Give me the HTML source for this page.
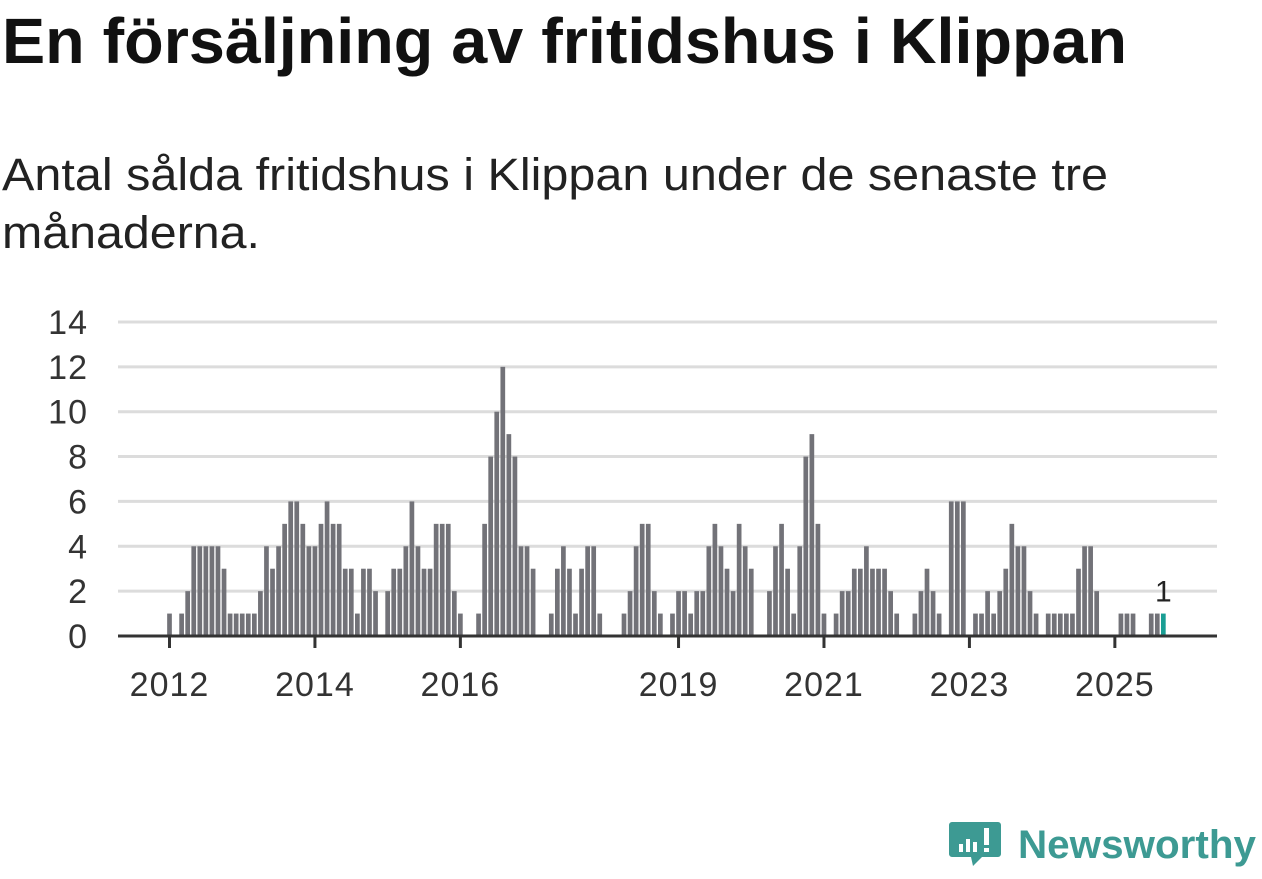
<!DOCTYPE html>
<html><head><meta charset="utf-8">
<style>
html,body{margin:0;padding:0;background:#fff;width:1262px;height:879px;overflow:hidden;font-family:"Liberation Sans","DejaVu Sans",sans-serif;}
svg{position:absolute;left:0;top:0}
</style></head><body>
<svg id="chart" width="1262" height="879" font-family="Liberation Sans, DejaVu Sans, sans-serif">
<text x="2" y="63" font-size="64" font-weight="bold" fill="#111" textLength="1125" lengthAdjust="spacingAndGlyphs">En försäljning av fritidshus i Klippan</text>
<g>
<text x="2" y="190" font-size="45" fill="#222" textLength="1106" lengthAdjust="spacingAndGlyphs">Antal sålda fritidshus i Klippan under de senaste tre</text>
<text x="2" y="248" font-size="45" fill="#222" textLength="258" lengthAdjust="spacingAndGlyphs">månaderna.</text>
</g>
<g id="grid"></g><g id="bars"></g><g id="axes"></g>
<g>
<path d="M952 822 h46 a3 3 0 0 1 3 3 v29 a3 3 0 0 1 -3 3 h-16 l-9 9 l-2 -9 h-19 a3 3 0 0 1 -3 -3 v-29 a3 3 0 0 1 3 -3z" fill="#3d9a93"/>
<rect x="959" y="844" width="4" height="8" fill="#fff"/><rect x="966" y="839" width="4" height="13" fill="#fff"/><rect x="973" y="842" width="4" height="10" fill="#fff"/><rect x="984" y="828" width="5" height="17" fill="#fff"/><rect x="984" y="848" width="5" height="4" fill="#fff"/>
<text x="1018" y="858" font-size="40" font-weight="bold" fill="#3d9a93" textLength="238" lengthAdjust="spacingAndGlyphs">Newsworthy</text>
</g>
</svg>
<script>
const values=[1,0,1,2,4,4,4,4,4,3,1,1,1,1,1,2,4,3,4,5,6,6,5,4,4,5,6,5,5,3,3,1,3,3,2,0,2,3,3,4,6,4,3,3,5,5,5,2,1,0,0,1,5,8,10,12,9,8,4,4,3,0,0,1,3,4,3,1,3,4,4,1,0,0,0,1,2,4,5,5,2,1,0,1,2,2,1,2,2,4,5,4,3,2,5,4,3,0,0,2,4,5,3,1,4,8,9,5,1,0,1,2,2,3,3,4,3,3,3,2,1,0,0,1,2,3,2,1,0,6,6,6,0,1,1,2,1,2,3,5,4,4,2,1,0,1,1,1,1,1,3,4,4,2,0,0,0,1,1,1,0,0,1,1,1];
const yTicks=[0,2,4,6,8,10,12,14];
const xTickLabels=["2012","2014","2016","2019","2021","2023","2025"];
const xTickIndex=[0,24,48,84,108,132,156];
const NS="http://www.w3.org/2000/svg";
const x0=169.5, step=6.06, bw=4.7, yBase=636, yUnit=22.43, xL=118, xR=1217;
const X=i=>x0+i*step, Y=v=>yBase-v*yUnit;
function mk(t,a,p){const e=document.createElementNS(NS,t);for(const k in a)e.setAttribute(k,a[k]);p.appendChild(e);return e;}
const grid=document.getElementById('grid'),bars=document.getElementById('bars'),axes=document.getElementById('axes');
yTicks.forEach(v=>{
 if(v>0){const l=mk('line',{x1:xL,x2:xR,y1:Y(v),y2:Y(v),stroke:'#dcdcdc','stroke-width':3},grid);
 
 }
 const t=mk('text',{x:88,y:Y(v)+12,'text-anchor':'end','font-size':34,fill:'#333','letter-spacing':'1'},axes);
 t.textContent=v;
 
 
});
values.forEach((v,i)=>{
 if(v<=0)return;
 const last=i===values.length-1;
 const r=mk('rect',{x:X(i)-bw/2,y:Y(v),width:bw,height:v*yUnit,fill:last?'#1a9e94':'#727278'},bars);
 
 
});
const li=values.length-1;
const lt=mk('text',{x:X(li),y:Y(values[li])-12,'text-anchor':'middle','font-size':30,fill:'#222'},axes);
lt.textContent=values[li];


const base=mk('line',{x1:xL,x2:xR,y1:yBase,y2:yBase,stroke:'#333','stroke-width':3},axes);


xTickIndex.forEach((ix,k)=>{
 const tk=mk('line',{x1:X(ix),x2:X(ix),y1:yBase,y2:yBase+12,stroke:'#333','stroke-width':3},axes);
 
 
 const t=mk('text',{x:X(ix),y:696,'text-anchor':'middle','font-size':34,fill:'#333','letter-spacing':'1'},axes);
 t.textContent=xTickLabels[k];
 
 
});
</script>
</body></html>
